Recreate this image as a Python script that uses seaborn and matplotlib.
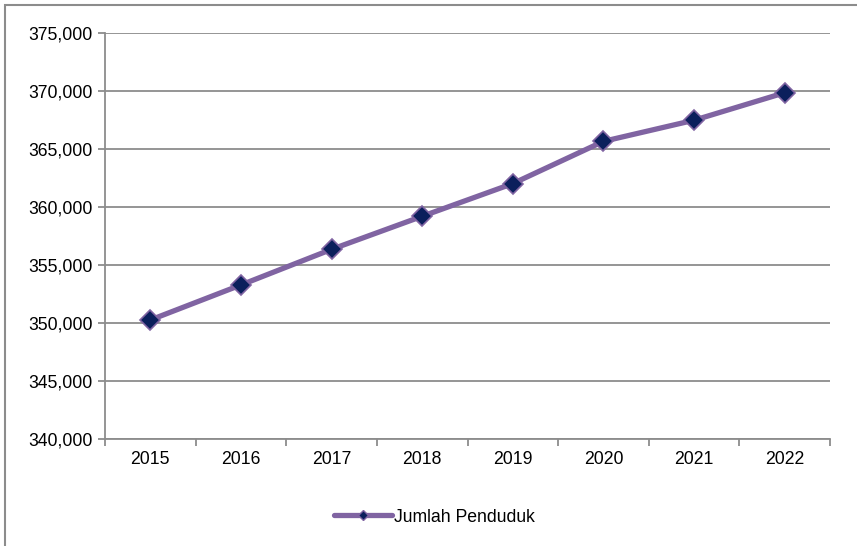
import numpy as np
import pandas as pd
import seaborn as sns
import matplotlib.pyplot as plt
from matplotlib.lines import Line2D
from matplotlib.patches import Rectangle
from matplotlib.ticker import FuncFormatter, FixedLocator

years = ["2015", "2016", "2017", "2018", "2019", "2020", "2021", "2022"]
penduduk = [350260, 353280, 356350, 359200, 362020, 365660, 367480, 369850]
series_name = "Jumlah Penduduk"

df = pd.DataFrame({"Tahun": years, "Jumlah": penduduk})

sns.set_style("white")
plt.rcParams['font.family'] = ['Liberation Sans', 'DejaVu Sans']
plt.rcParams['text.color'] = 'black'

line_col = "#8064A2"
marker_col = "#0B1F5C"
grid_col = "#8C8C8C"
fs = 12.7

fig = plt.figure(figsize=(8.57, 5.46), dpi=100)
ax = fig.add_axes([105 / 857, 1 - 439 / 546, 725 / 857, 406 / 546])

sns.lineplot(data=df, x="Tahun", y="Jumlah", ax=ax, color=line_col,
             linewidth=3.8, marker="D", markersize=10,
             markerfacecolor=marker_col, markeredgecolor=line_col,
             markeredgewidth=1.2, sort=False, legend=False, zorder=3)

ax.set_xlim(-0.5, len(years) - 0.5)
ax.set_ylim(340000, 375000)
ax.set_yticks(np.arange(340000, 375001, 5000))
ax.yaxis.set_major_formatter(FuncFormatter(lambda v, p: f"{int(v):,}"))
ax.set_xticks(range(len(years)))
ax.set_xticklabels(years)
ax.xaxis.set_minor_locator(FixedLocator(np.arange(-0.5, len(years), 1.0)))
ax.set_xlabel("")
ax.set_ylabel("")

ax.grid(axis="y", color=grid_col, linewidth=1.3)
ax.set_axisbelow(True)
for s in ["top", "right"]:
    ax.spines[s].set_visible(False)
for s in ["left", "bottom"]:
    ax.spines[s].set_color(grid_col)
    ax.spines[s].set_linewidth(1.3)

ax.tick_params(axis="y", which="major", length=5, width=1.3, color=grid_col,
               left=True, labelsize=fs, pad=4, labelcolor="black")
ax.tick_params(axis="x", which="major", length=0, labelsize=fs, pad=9,
               labelcolor="black")
ax.tick_params(axis="x", which="minor", length=5, width=1.3, color=grid_col,
               bottom=True)

handle = Line2D([], [], color=line_col, linewidth=3.8, marker="D",
                markersize=5, markerfacecolor=marker_col,
                markeredgecolor=line_col)
fig.legend([handle], [series_name], loc="center", bbox_to_anchor=(0.507, 1 - 517 / 546),
           frameon=False, fontsize=fs, handlelength=3.3, handletextpad=0.15)

fig.patches.append(Rectangle((5 / 857, -0.1), 1.1, 1.1 - 5 / 546,
                             transform=fig.transFigure, fill=False,
                             edgecolor=grid_col, linewidth=1.5))

fig.savefig("out.png", dpi=100)
